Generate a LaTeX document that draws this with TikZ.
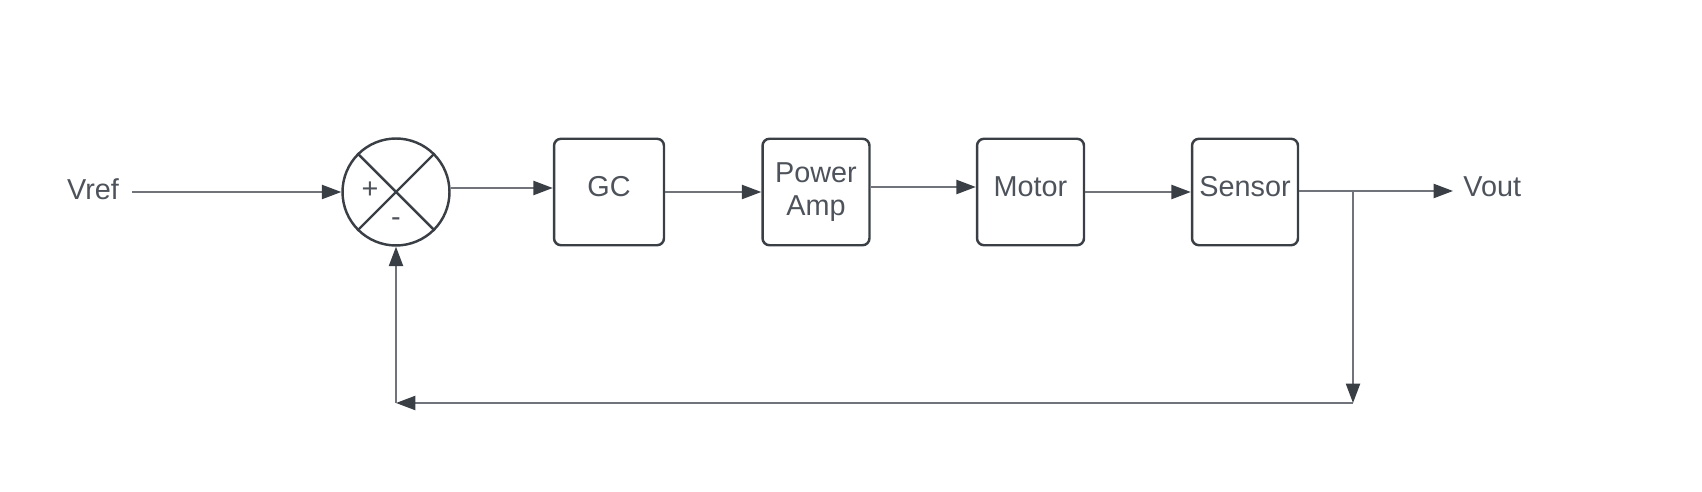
\documentclass[tikz,border=0pt]{standalone}
\usepackage{fontspec}
\setmainfont{Liberation Sans}
\usetikzlibrary{arrows.meta}
\definecolor{linec}{RGB}{112,116,122}
\definecolor{darkc}{RGB}{58,63,70}
\definecolor{textc}{RGB}{78,83,91}
\begin{document}
\begin{tikzpicture}[x=0.02cm,y=-0.02cm,
  font=\fontsize{16.4}{18.8}\selectfont,
  blockbox/.style={draw=darkc,line width=1.4pt,rounded corners=4pt,minimum width=2.14cm,minimum height=2.13cm,text=textc,align=center,inner sep=0pt},
  oneline/.style={text height=0.72em,text depth=0.22em},
  sumnode/.style={draw=darkc,line width=1.4pt,circle,minimum size=2.14cm,inner sep=0pt},
  conn/.style={draw=linec,line width=1.1pt,-{Triangle[length=11pt,width=8pt,color=darkc]}},
  lbl/.style={text=textc,inner sep=0pt}]
\useasboundingbox (0,0) rectangle (1702,492);
% nodes
\node[lbl] (vref) at (93,189) {Vref};
\coordinate (in) at (132,192);
\node[sumnode] (sum) at (396,192) {};
\draw[darkc,line width=1.4pt] (sum.north west) -- (sum.south east);
\draw[darkc,line width=1.4pt] (sum.north east) -- (sum.south west);
\node[lbl] (plus) at (370,190) {+};
\node[lbl] (minus) at (396,222) {-};
\node[blockbox,oneline,minimum width=2.2cm] (gc) at (609,192) {GC};
\node[blockbox] (pa) at (816,192) {Power\\Amp};
\node[blockbox,oneline] (motor) at (1030.5,192) {Motor};
\node[blockbox,oneline,minimum width=2.12cm] (sensor) at (1245,192) {Sensor};
\node[lbl,anchor=west,inner xsep=0.2cm,text height=0.72em,text depth=0.11em] (vout) at (1453,191) {Vout};
\coordinate (br) at (1353,191);
\coordinate (fbr) at (1353,403);
\coordinate (fbl) at (396,403);
% connectors
\draw[conn] (in) -- (sum.west);
\draw[conn] (sum.east |- 0,188) -- (gc.west |- 0,188);
\draw[conn] (gc.east |- 0,192) -- (pa.west |- 0,192);
\draw[conn] (pa.east |- 0,187) -- (motor.west |- 0,187);
\draw[conn] (motor.east |- 0,192) -- (sensor.west |- 0,192);
\draw[conn] (sensor.east |- br) -- (vout.west |- br);
\draw[conn] (br) -- (fbr);
\draw[conn] (fbr) -- (fbl);
\draw[conn] (fbl) -- (sum.south);
\end{tikzpicture}
\end{document}
